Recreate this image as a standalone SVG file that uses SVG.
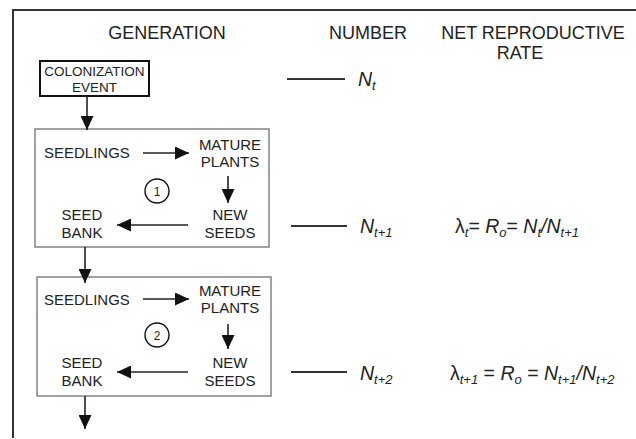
<svg xmlns="http://www.w3.org/2000/svg" width="636" height="439" viewBox="0 0 636 439">
<style>
text{font-family:"Liberation Sans",Arial,sans-serif;fill:#222}
.h{font-size:18px}
.b{font-size:15px}
.c{font-size:13.5px}
.m{font-size:19.5px;font-style:italic}
.s{font-size:13px}
.n{font-size:12px}
.mid{text-anchor:middle}
.box{fill:none;stroke:#8a8a8a;stroke-width:1.6}
.con{stroke:#222;stroke-width:1.6;fill:none}
.rule{stroke:#333;stroke-width:2;fill:none}
</style>
<defs>
<marker id="ah" markerUnits="userSpaceOnUse" markerWidth="14" markerHeight="13" refX="14" refY="6.5" orient="auto">
<path d="M0,0 L14,6.5 L0,13 z" fill="#111"/>
</marker>
</defs>
<path class="rule" d="M13,438 L13,10 L636,10"/>
<g id="headers">
<text class="h mid" x="167" y="39">GENERATION</text>
<text class="h mid" x="368" y="39">NUMBER</text>
<text class="h mid" x="533" y="39">NET REPRODUCTIVE</text>
<text class="h mid" x="520" y="59">RATE</text>
</g>
<g id="colonization">
<rect x="40" y="61" width="109" height="35" fill="none" stroke="#111" stroke-width="2"/>
<text class="c mid" x="94.5" y="76">COLONIZATION</text>
<text class="c mid" x="94.5" y="92">EVENT</text>
</g>
<g id="cycle1">
<rect class="box" x="35" y="129" width="234" height="118"/>
<g id="seedlings1"><text class="b" x="44" y="158">SEEDLINGS</text></g>
<g id="mature1"><text class="b mid" x="230" y="150">MATURE</text><text class="b mid" x="230" y="167">PLANTS</text></g>
<g id="newseeds1"><text class="b mid" x="230" y="220">NEW</text><text class="b mid" x="230" y="238">SEEDS</text></g>
<g id="seedbank1"><text class="b mid" x="82" y="220">SEED</text><text class="b mid" x="82" y="238">BANK</text></g>
<g id="label1"><circle cx="157" cy="191" r="12" fill="none" stroke="#111" stroke-width="1.4"/><text class="n mid" x="157" y="195.5">1</text></g>
</g>
<g id="cycle2">
<rect class="box" x="37" y="277" width="234" height="119"/>
<g id="seedlings2"><text class="b" x="44" y="305">SEEDLINGS</text></g>
<g id="mature2"><text class="b mid" x="230" y="296">MATURE</text><text class="b mid" x="230" y="313">PLANTS</text></g>
<g id="newseeds2"><text class="b mid" x="230" y="368">NEW</text><text class="b mid" x="230" y="386">SEEDS</text></g>
<g id="seedbank2"><text class="b mid" x="82" y="368">SEED</text><text class="b mid" x="82" y="386">BANK</text></g>
<g id="label2"><circle cx="157" cy="335" r="12" fill="none" stroke="#111" stroke-width="1.4"/><text class="n mid" x="157" y="339.5">2</text></g>
</g>
<g id="connectors">
<line class="con" x1="87" y1="96" x2="87" y2="130" marker-end="url(#ah)"/>
<line class="con" x1="143" y1="153" x2="189" y2="153" marker-end="url(#ah)"/>
<line class="con" x1="228" y1="176" x2="228" y2="203" marker-end="url(#ah)"/>
<line class="con" x1="188" y1="225" x2="117" y2="225" marker-end="url(#ah)"/>
<line class="con" x1="85" y1="247" x2="85" y2="283" marker-end="url(#ah)"/>
<line class="con" x1="143" y1="299" x2="189" y2="299" marker-end="url(#ah)"/>
<line class="con" x1="228" y1="324" x2="228" y2="349" marker-end="url(#ah)"/>
<line class="con" x1="188" y1="372" x2="117" y2="372" marker-end="url(#ah)"/>
<line class="con" x1="85" y1="396" x2="85" y2="429" marker-end="url(#ah)"/>
<line class="rule" x1="287" y1="79" x2="345" y2="79"/>
<line class="rule" x1="291" y1="226" x2="347" y2="226"/>
<line class="rule" x1="291" y1="372" x2="347" y2="372"/>
</g>
<g id="numbers">
<text class="m" x="358" y="86">N<tspan class="s" dy="4">t</tspan></text>
<text class="m" x="360" y="233">N<tspan class="s" dy="4">t+1</tspan></text>
<text class="m" x="360" y="380">N<tspan class="s" dy="4">t+2</tspan></text>
</g>
<g id="rates">
<text class="m" x="455" y="233"><tspan font-style="normal">λ</tspan><tspan class="s" dy="4">t</tspan><tspan font-style="normal" dy="-4">= </tspan>R<tspan class="s" dy="4">o</tspan><tspan font-style="normal" dy="-4">= </tspan>N<tspan class="s" dy="4">t</tspan><tspan dy="-4">/N</tspan><tspan class="s" dy="4">t+1</tspan></text>
<text class="m" x="450" y="380"><tspan font-style="normal">λ</tspan><tspan class="s" dy="4">t+1</tspan><tspan font-style="normal" dy="-4"> = </tspan>R<tspan class="s" dy="4">o</tspan><tspan font-style="normal" dy="-4"> = </tspan>N<tspan class="s" dy="4">t+1</tspan><tspan dy="-4">/N</tspan><tspan class="s" dy="4">t+2</tspan></text>
</g>
</svg>
